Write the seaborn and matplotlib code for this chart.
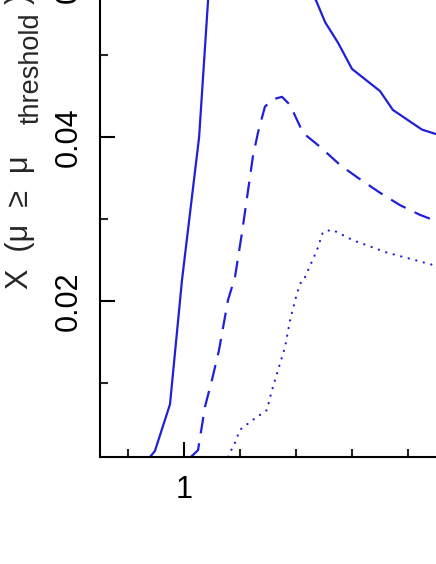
import pandas as pd
import numpy as np
import seaborn as sns
import matplotlib.pyplot as plt

# values (x linear, y = fraction)
solid_x = [0.879, 0.896, 0.950, 0.993, 1.054, 1.086, 1.12, 1.20, 1.30, 1.40,
           1.471, 1.504, 1.550, 1.600, 1.700, 1.746, 1.850, 1.896, 1.95]
solid_y = [0.001, 0.0017, 0.0074, 0.0226, 0.0400, 0.0567, 0.069, 0.066, 0.0625, 0.059,
           0.0567, 0.0540, 0.0515, 0.0483, 0.0456, 0.0433, 0.0409, 0.0404, 0.0400]

dashed_x = [1.025, 1.050, 1.075, 1.100, 1.125, 1.157, 1.182, 1.207, 1.246, 1.264, 1.289,
            1.318, 1.350, 1.379, 1.425, 1.486, 1.557, 1.618, 1.700, 1.771, 1.843, 1.889, 1.95]
dashed_y = [0.001, 0.0018, 0.0071, 0.0104, 0.0140, 0.0201, 0.0229, 0.0283, 0.0376, 0.0405, 0.0437,
            0.0446, 0.0449, 0.0439, 0.0405, 0.0388, 0.0366, 0.0351, 0.0332, 0.0317, 0.0305, 0.0299, 0.0294]

dotted_x = [1.157, 1.182, 1.200, 1.246, 1.296, 1.314, 1.336, 1.361, 1.379, 1.404,
            1.421, 1.432, 1.475, 1.496, 1.529, 1.604, 1.725, 1.889, 1.95]
dotted_y = [0.001, 0.0027, 0.0043, 0.0055, 0.0067, 0.0091, 0.0116, 0.0144, 0.0177, 0.0210,
            0.0226, 0.0229, 0.0262, 0.0284, 0.0287, 0.0274, 0.0259, 0.0244, 0.0239]

df = pd.concat([
    pd.DataFrame({"x": solid_x, "y": solid_y, "curve": "solid"}),
    pd.DataFrame({"x": dashed_x, "y": dashed_y, "curve": "dashed"}),
    pd.DataFrame({"x": dotted_x, "y": dotted_y, "curve": "dotted"}),
], ignore_index=True)

sns.set_style("ticks")
plt.rcParams["font.family"] = ["Liberation Sans", "DejaVu Sans"]

W, H = 436, 564
fig = plt.figure(figsize=(W / 100, H / 100), dpi=100)
# axes: left spine at px 100, bottom spine at px 457; runs off the top/right
ax = fig.add_axes([100 / W, 1 - 457 / H, 364 / W, 566 / H])

blue = "#2020d8"
sns.lineplot(data=df, x="x", y="y", style="curve", ax=ax, color=blue,
             dashes={"solid": "", "dashed": (7.5, 4.5), "dotted": (0.1, 3.4)},
             linewidth=1.6, legend=False, estimator=None)
ax.get_lines()[2].set_dash_capstyle("round")

ax.set_xlim(0.7, 2.0)
ax.set_ylim(0.04 - 320 / 8200, 0.07)
ax.set_xticks([1])
ax.set_xticklabels(["1"])
ax.set_xticks([0.8, 1.2, 1.4, 1.6, 1.8], minor=True)
ax.set_yticks([0.02, 0.04, 0.06])
ax.set_yticklabels(["0.02", "0.04", "0.06"])
ax.set_yticks([0.01, 0.03, 0.05], minor=True)

for s in ["top", "right"]:
    ax.spines[s].set_visible(False)
for s in ["left", "bottom"]:
    ax.spines[s].set_linewidth(1.5)
    ax.spines[s].set_color("black")

ax.tick_params(which="major", direction="in", length=11, width=1.5, labelsize=22, colors="black")
ax.tick_params(which="minor", direction="in", length=5.5, width=1.5)
ax.tick_params(axis="x", which="major", pad=13)
ax.tick_params(axis="y", which="major", pad=11.5)
plt.setp(ax.get_yticklabels(), rotation=90, va="center")
ax.set_xlabel("")

# y label: main part, subscript and closing bracket
ax.set_ylabel("X  (μ  ≥  μ", fontsize=22,
              ha="left", va="baseline", rotation_mode="anchor")
ax.yaxis.set_label_coords(28 / W, 1 - 289 / H, transform=fig.transFigure)
fig.text(39 / W, 1 - 124 / H, "threshold", fontsize=19.5, rotation=90,
         rotation_mode="anchor", ha="left", va="baseline")
fig.text(28 / W, 1 - 4 / H, ")", fontsize=22, rotation=90,
         rotation_mode="anchor", ha="left", va="baseline")

fig.savefig("out.png", dpi=100)
